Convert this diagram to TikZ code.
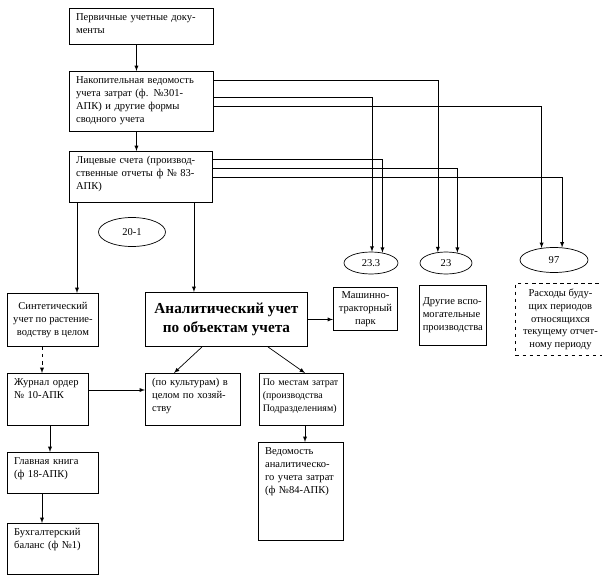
\documentclass[tikz,border=0pt]{standalone}
\usepackage{fontspec}
\setmainfont{Liberation Serif}
\usetikzlibrary{calc,shapes,arrows,positioning}

\begin{document}
\begin{tikzpicture}[>=latex, line width=0.6pt,
  doc/.style 2 args={draw, line width=0.8pt, rectangle, anchor=north west, align=left,
    font=\small, inner xsep=0.2cm, inner ysep=0.12cm, text height=0.25cm,
    text width=#1, text depth=#2},
  cbox/.style={draw, line width=0.8pt, rectangle, anchor=north west, align=center,
    font=\small, inner sep=0.1cm},
  acc/.style={draw, ellipse, inner sep=0pt, font=\small}]

\useasboundingbox (0,0) rectangle (18.06,-17.37);

% column of summary documents
\node [doc={3.92cm}{0.59cm}] (perv)  at (2.07,-0.24) {Первичные учетные доку-\\менты};
\node [doc={3.92cm}{1.31cm}] (nakop) at (2.07,-2.13) {Накопительная ведомость\\учета затрат (ф. №301-\\АПК) и другие формы\\сводного учета};
\node [doc={3.89cm}{1.04cm}] (lic)   at (2.07,-4.53) {Лицевые счета (производ-\\ственные отчеты ф № 83-\\АПК)};

\node [acc, minimum width=2.01cm, minimum height=0.87cm] (e201) at (3.96,-6.96) {20-1};

% accounts
\node [acc, minimum width=1.62cm, minimum height=0.66cm] (e233) at (11.13,-7.89) {23.3};
\node [acc, minimum width=1.56cm, minimum height=0.66cm] (e23)  at (13.38,-7.89) {23};
\node [acc, minimum width=2.04cm, minimum height=0.75cm] (e97)  at (16.62,-7.80) {97};

\node [cbox, minimum width=2.73cm, minimum height=1.59cm] (sint) at (0.21,-8.79) {Синтетический\\учет по растение-\\водству в целом};
\node [cbox, minimum width=4.86cm, minimum height=1.62cm, font=\fontsize{13}{16}\selectfont\bfseries] (anal) at (4.35,-8.76) {Аналитический учет\\по объектам учета};
\node [cbox, minimum width=1.92cm, minimum height=1.29cm] (mtp)  at (9.99,-8.61) {Машинно-\\тракторный\\парк};
\node [cbox, minimum width=1.74cm, minimum height=1.80cm, align=left] (drug) at (12.57,-8.55) {Другие вспо-\\могательные\\производства};
\node [cbox, dashed, minimum width=2.70cm, minimum height=2.16cm] (rash) at (15.45,-8.49) {Расходы буду-\\щих периодов\\относящихся\\текущему отчет-\\ному периоду};

\node [doc={2.03cm}{1.07cm}] (zhur) at (0.21,-11.19) {Журнал ордер\\№ 10-АПК};
\node [doc={2.45cm}{1.07cm}] (kult) at (4.35,-11.19) {(по культурам) в\\целом по хозяй-\\ству};
\node [doc={2.32cm}{1.07cm}, inner xsep=0.1cm, font=\fontsize{8.5}{11}\selectfont] (mest) at (7.77,-11.19) {\mbox{По местам затрат}\\(производства\\\mbox{Подразделениям)}};
\node [doc={2.15cm}{2.45cm}] (ved)  at (7.74,-13.26) {Ведомость\\аналитическо-\\го учета затрат\\(ф №84-АПК)};
\node [doc={2.33cm}{0.74cm}] (glav) at (0.21,-13.56) {Главная книга\\(ф 18-АПК)};
\node [doc={2.33cm}{1.04cm}] (buh)  at (0.21,-15.69) {Бухгалтерский\\баланс (ф №1)};

\draw[->] ([xshift=-0.15cm]perv.south) -- ([xshift=-0.15cm]perv.south |- nakop.north);
\draw[->] ([xshift=-0.15cm]nakop.south) -- ([xshift=-0.15cm]nakop.south |- lic.north);

\foreach \dy/\tgt in {0.27/e23.127, 0.78/e233.85, 1.05/e97.136}
  \draw[->] ([yshift=-\dy cm]nakop.north east) -| (\tgt);
\foreach \dy/\tgt in {0.24/e233.42, 0.51/e23.42, 0.78/e97.57}
  \draw[->] ([yshift=-\dy cm]lic.north east) -| (\tgt);

\draw[->] ([xshift=0.24cm]lic.south west) -- ([xshift=0.24cm]lic.south west |- sint.north);
\draw[->] ([xshift=-0.57cm]lic.south east) -- ([xshift=-0.57cm]lic.south east |- anal.north);
\draw[->] (anal.east) -- (anal.east -| mtp.west);
\draw[->] ([xshift=1.71cm]anal.south west) -- ([xshift=0.87cm]kult.north west);
\draw[->] ([xshift=3.69cm]anal.south west) -- ([xshift=1.38cm]mest.north west);
\draw[->, dashed] ([xshift=1.05cm]sint.south west) -- ([xshift=1.05cm]zhur.north west);
\draw[->] ([yshift=-0.51cm]zhur.north east) -- ([yshift=-0.51cm]kult.north west);
\draw[->] ([xshift=1.38cm]mest.south west) -- ([xshift=1.38cm]mest.south west |- ved.north);
\draw[->] ([xshift=1.29cm]zhur.south west) -- ([xshift=1.29cm]glav.north west);
\draw[->] ([xshift=1.05cm]glav.south west) -- ([xshift=1.05cm]buh.north west);

\end{tikzpicture}
\end{document}
